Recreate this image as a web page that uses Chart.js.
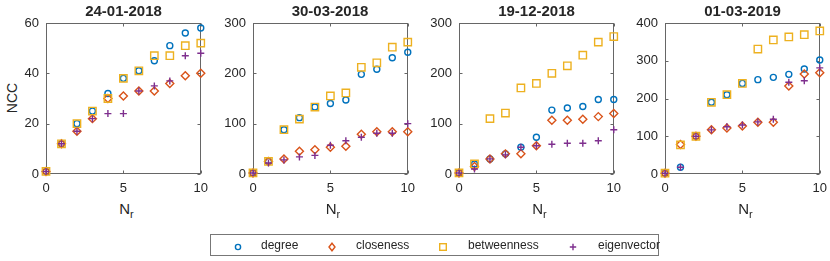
<!DOCTYPE html>
<html>
<head>
<meta charset="utf-8">
<script src="https://cdn.jsdelivr.net/npm/chart.js@4.4.1/dist/chart.umd.min.js"></script>
<style>
  body { margin: 0; background: #fff; font-family: "Liberation Sans", Arial, sans-serif; color: #262626; }
  #wrap { position: relative; width: 830px; height: 261px; overflow: hidden; }
  .panel { position: absolute; top: 0; }
  .ttl { position: absolute; top: 3px; width: 160px; text-align: center; font-weight: bold; font-size: 15px; line-height: 15px; }
  .xl { position: absolute; top: 201px; width: 40px; text-align: center; font-size: 15px; line-height: 15px; }
  .xl sub { font-size: 11px; vertical-align: -4px; line-height: 0; }
  #ylab { position: absolute; left: 12px; top: 98px; font-size: 14px; line-height: 14px; transform: translate(-50%, -50%) rotate(-90deg); }
  #legend { position: absolute; left: 210px; top: 234px; width: 447px; height: 20px; border: 1px solid #777; }
  .lg { position: absolute; font-size: 12px; line-height: 12px; top: 245px; transform: translateY(-50%); }
  .mk { position: absolute; top: 240px; }
</style>
</head>
<body>
<div id="wrap">
  <div id="ylab">NCC</div>
  <div id="legend"></div>
</div>
<script>
const nr = [0, 1, 2, 3, 4, 5, 6, 7, 8, 9, 10];
const dates = ['24-01-2018', '30-03-2018', '19-12-2018', '01-03-2019'];
const yMax = [60, 300, 300, 400];
const yStep = [20, 100, 100, 100];
const xTicks = [0, 5, 10];

const degree = [
  [1, 12, 20, 25, 32, 38, 41, 45, 51, 56, 58],
  [2, 25, 88, 112, 133, 140, 147, 198, 208, 231, 242],
  [2, 20, 30, 40, 53, 73, 127, 131, 134, 148, 148],
  [2, 18, 100, 190, 210, 240, 250, 256, 264, 278, 302]
];
const closeness = [
  [1, 12, 17, 22, 30, 31, 33, 33, 36, 39, 40],
  [2, 25, 30, 45, 48, 53, 55, 79, 84, 84, 84],
  [2, 15, 30, 40, 40, 56, 107, 107, 109, 114, 120],
  [2, 78, 100, 117, 122, 127, 137, 137, 233, 265, 268]
];
const betweenness = [
  [1, 12, 20, 25, 30, 38, 41, 47, 47, 51, 52],
  [2, 25, 88, 109, 133, 155, 161, 212, 221, 252, 262],
  [2, 20, 110, 121, 171, 180, 200, 215, 236, 262, 273],
  [2, 77, 100, 190, 210, 240, 331, 355, 363, 369, 379]
];
const eigenvector = [
  [1, 12, 17, 22, 24, 24, 33, 35, 37, 47, 48],
  [2, 22, 28, 34, 37, 57, 66, 73, 81, 81, 100],
  [2, 10, 30, 38, 53, 56, 59, 61, 61, 66, 88],
  [2, 18, 100, 117, 125, 130, 138, 145, 243, 247, 281]
];

const series = [
  { label: 'degree', vals: degree, color: '#0072BD', style: 'circle', r: 3, order: 4 },
  { label: 'closeness', vals: closeness, color: '#D95319', style: 'rectRot', r: 4, order: 3 },
  { label: 'betweenness', vals: betweenness, color: '#EDB120', style: 'rect', r: 5.2, order: 2 },
  { label: 'eigenvector', vals: eigenvector, color: '#7E2F8E', style: 'cross', r: 3.5, order: 1 }
];

const plotLefts = [46, 252.5, 459, 665];
const plotW = 155, yAxisW = 46, padTop = 23, plotH = 151, canvasH = 200, padRight = 14;

// matlab-like box with inward ticks
const boxPlugin = {
  id: 'box',
  beforeDatasetsDraw(chart) {
    const { ctx, chartArea: a, scales: { x, y } } = chart;
    const L = Math.round(a.left) + 0.5, R = Math.round(a.right) - 0.5;
    const T = Math.round(a.top) + 0.5, B = Math.round(a.bottom) - 0.5;
    const tl = 3;
    ctx.save();
    ctx.strokeStyle = '#666';
    ctx.lineWidth = 1;
    ctx.strokeRect(L, T, R - L, B - T);
    ctx.beginPath();
    x.ticks.forEach(t => {
      const px = Math.round(x.getPixelForValue(t.value)) + 0.5;
      ctx.moveTo(px, B); ctx.lineTo(px, B - tl);
      ctx.moveTo(px, T); ctx.lineTo(px, T + tl);
    });
    y.ticks.forEach(t => {
      const py = Math.round(y.getPixelForValue(t.value)) + 0.5;
      ctx.moveTo(L, py); ctx.lineTo(L + tl, py);
      ctx.moveTo(R, py); ctx.lineTo(R - tl, py);
    });
    ctx.stroke();
    ctx.restore();
  }
};

const wrap = document.getElementById('wrap');
dates.forEach((d, i) => {
  const div = document.createElement('div');
  div.className = 'panel';
  const cw = yAxisW + plotW + padRight;
  div.style.left = (plotLefts[i] - yAxisW) + 'px';
  div.style.width = cw + 'px';
  div.style.height = canvasH + 'px';
  const cv = document.createElement('canvas');
  cv.width = cw; cv.height = canvasH;
  div.appendChild(cv);
  wrap.appendChild(div);

  const cx = plotLefts[i] + plotW / 2;
  const t = document.createElement('div');
  t.className = 'ttl'; t.textContent = d;
  t.style.left = (cx - 80) + 'px';
  wrap.appendChild(t);
  const xl = document.createElement('div');
  xl.className = 'xl'; xl.innerHTML = 'N<sub>r</sub>';
  xl.style.left = (cx - 20 + 3) + 'px';
  wrap.appendChild(xl);

  new Chart(cv, {
    type: 'scatter',
    data: {
      datasets: series.map(s => ({
        label: s.label,
        data: nr.map((n, k) => ({ x: n, y: s.vals[i][k] })),
        pointStyle: s.style,
        pointRadius: s.r,
        pointHoverRadius: s.r,
        borderColor: s.color,
        backgroundColor: 'rgba(0,0,0,0)',
        pointBorderWidth: 1.4,
        borderWidth: 1.4,
        order: s.order,
        clip: false
      }))
    },
    options: {
      responsive: false,
      animation: false,
      events: [],
      layout: { padding: { left: 0, top: padTop, right: padRight, bottom: 0 } },
      plugins: { legend: { display: false }, tooltip: { enabled: false } },
      scales: {
        x: {
          type: 'linear', min: 0, max: 10,
          afterBuildTicks: sc => { sc.ticks = xTicks.map(v => ({ value: v })); },
          afterFit: sc => { sc.height = canvasH - padTop - plotH; },
          grid: { display: false, drawTicks: false },
          border: { display: false },
          ticks: { padding: 7, color: '#262626', font: { family: 'Liberation Sans', size: 13 }, maxRotation: 0 }
        },
        y: {
          min: 0, max: yMax[i],
          afterFit: sc => { sc.width = yAxisW; },
          grid: { display: false, drawTicks: false },
          border: { display: false },
          ticks: { stepSize: yStep[i], padding: 7, color: '#262626', font: { family: 'Liberation Sans', size: 13 } }
        }
      }
    },
    plugins: [boxPlugin]
  });
});

// legend
const lgMarkX = [238, 332, 443, 573];
const lgTextX = [261, 356, 468, 598];
const svgMark = {
  circle: c => `<circle cx="6" cy="6" r="2.6" fill="none" stroke="${c}" stroke-width="1.4"/>`,
  rectRot: c => `<path d="M6 2.2 L9 6 L6 9.8 L3 6 Z" fill="none" stroke="${c}" stroke-width="1.4"/>`,
  rect: c => `<rect x="2.7" y="2.7" width="6.6" height="6.6" fill="none" stroke="${c}" stroke-width="1.4"/>`,
  cross: c => `<path d="M6 2.8 V9.2 M2.8 6 H9.2" stroke="${c}" stroke-width="1.4"/>`
};
series.forEach((s, k) => {
  const m = document.createElement('div');
  m.className = 'mk';
  m.style.left = (lgMarkX[k] - 6) + 'px';
  m.style.top = (245 - 6) + 'px';
  m.innerHTML = `<svg width="12" height="12">${svgMark[s.style](s.color)}</svg>`;
  wrap.appendChild(m);
  const tx = document.createElement('div');
  tx.className = 'lg';
  tx.style.left = lgTextX[k] + 'px';
  tx.textContent = s.label;
  wrap.appendChild(tx);
});
</script>
</body>
</html>
